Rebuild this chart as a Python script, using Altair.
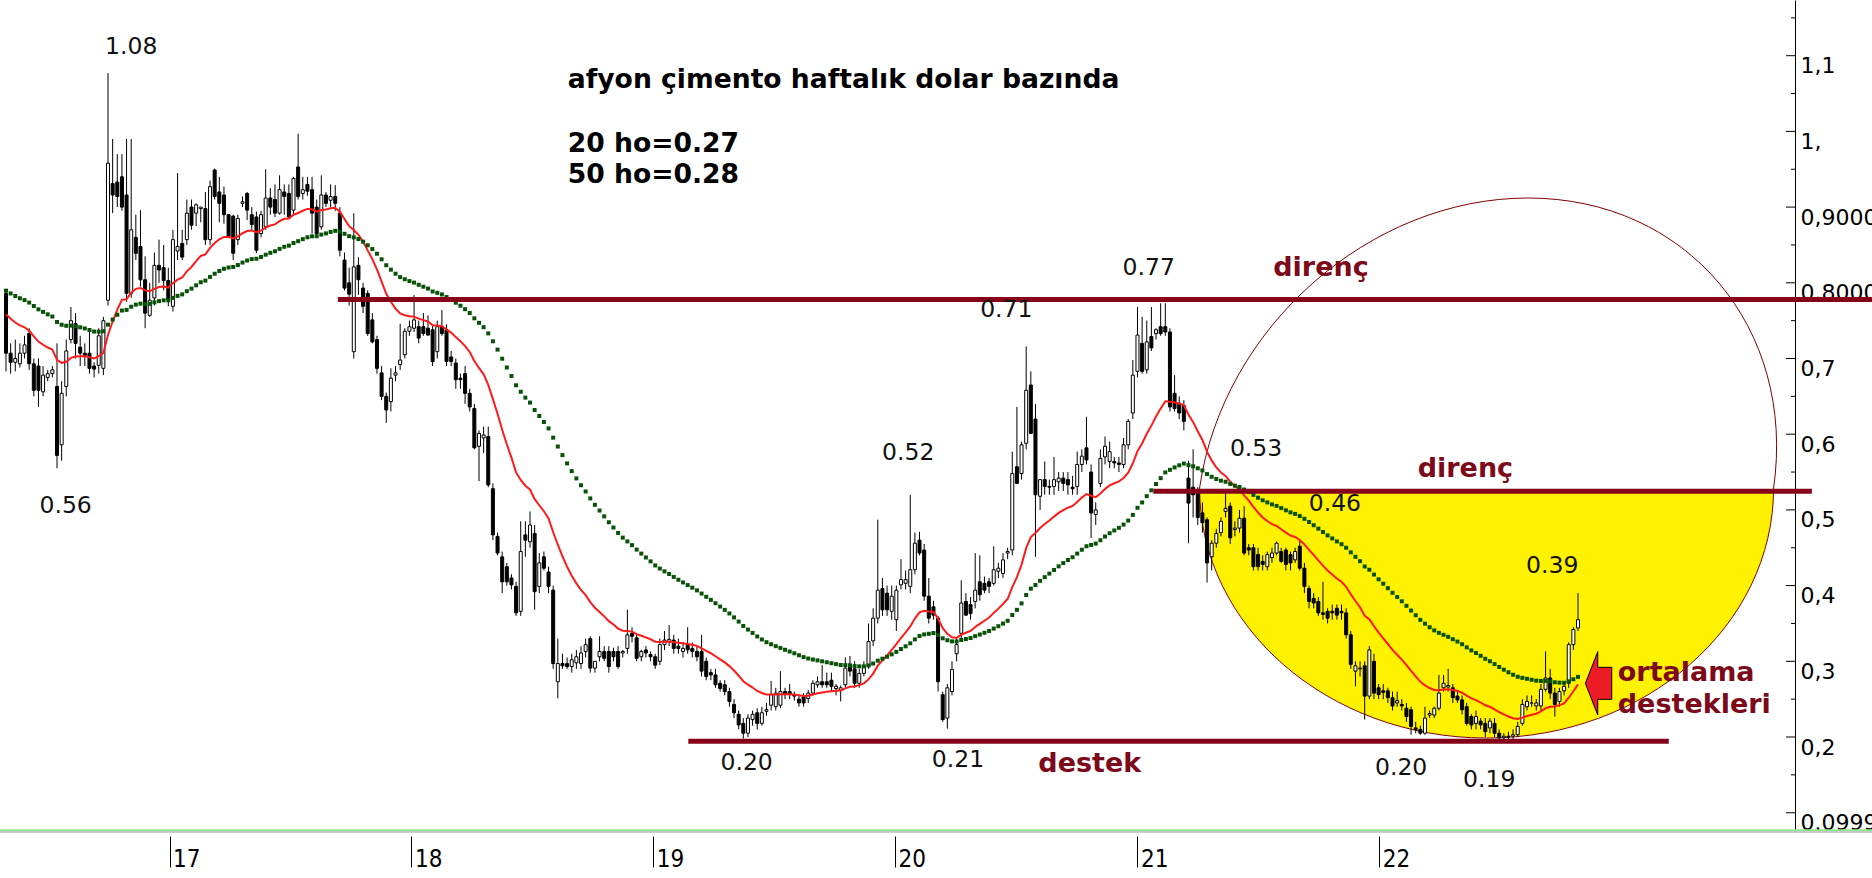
import altair as alt
import pandas as pd

# ---------------------------------------------------------------------------
# Weekly USD-based candles (first week ends 2016-04-29)
# ---------------------------------------------------------------------------
first_week = "2016-04-29"

opens = [
    .786, .707, .695, .693, .707, .733, .693, .69, .656, .675,
    .68, .663, .586, .663, .725, .746, .715, .707, .707, .69,
    .691, .687, .777, .931, .933, .94, .916, .786, .86, .848,
    .804, .757, .78, .823, .82, .803, .769, .842, .852, .857,
    .90, .892, .898, .898, .857, .949, .92, .916, .89, .888,
    .857, .905, .918, .89, .887, .865, .874, .912, .91, .892,
    .92, .918, .896, .953, .918, .93, .923, .90, .874, .916,
    .909, .914, .892, .83, .80, .709, .823, .793, .786, .751,
    .725, .681, .65, .643, .678, .692, .705, .736, .74, .742,
    .742, .74, .738, .709, .742, .738, .702, .694, .674, .68,
    .654, .634, .584, .595, .597, .528, .465, .438, .425, .41,
    .399, .366, .467, .458, .469, .399, .438, .418, .394, .273,
    .297, .297, .293, .298, .297, .313, .33, .291, .306, .313,
    .313, .313, .313, .311, .317, .337, .331, .306, .315, .309,
    .306, .30, .322, .326, .328, .32, .313, .322, .317, .313,
    .313, .30, .285, .282, .271, .269, .26, .243, .23, .218,
    .205, .223, .232, .218, .234, .242, .24, .242, .26, .26,
    .256, .25, .253, .251, .258, .269, .273, .273, .275, .264,
    .262, .269, .296, .29, .271, .284, .293, .327, .357, .396,
    .39, .366, .355, .401, .403, .399, .421, .46, .447, .386,
    .372, .357, .256, .225, .26, .31, .337, .379, .375, .379,
    .405, .403, .405, .403, .419, .416, .443, .447, .557, .548,
    .588, .665, .62, .518, .54, .531, .531, .537, .542, .54,
    .53, .531, .56, .582, .55, .494, .535, .57, .564, .564,
    .562, .56, .586, .628, .683, .72, .685, .729, .733, .742,
    .742, .735, .654, .641, .638, .542, .53, .522, .496, .487,
    .438, .456, .47, .498, .505, .474, .476, .489, .45, .45,
    .441, .432, .425, .437, .443, .445, .447, .441, .434, .452,
    .423, .396, .383, .379, .364, .366, .366, .37, .366, .364,
    .335, .287, .29, .294, .254, .30, .265, .261, .261, .252,
    .245, .243, .238, .236, .212, .21, .205, .229, .229, .238,
    .265, .266, .265, .254, .249, .24, .227, .218, .221, .218,
    .212, .218, .205, .199, .201, .201, .203, .218, .24, .245,
    .241, .241, .263, .278, .258, .247, .261, .271, .322, .344,
]

highs = [
    .79, .72, .725, .72, .73, .74, .70, .70, .69, .685,
    .69, .72, .67, .725, .768, .76, .73, .72, .735, .695,
    .74, .755, 1.077, .99, .97, .97, .99, .99, .89, .896,
    .835, .80, .84, .857, .85, .82, .87, .945, .87, .91,
    .91, .905, .90, .92, .935, .951, .94, .927, .89, .89,
    .89, .914, .92, .90, .894, .895, .95, .925, .93, .942,
    .93, .93, .94, .997, .94, .94, .94, .91, .942, .92,
    .93, .929, .90, .84, .82, .892, .834, .80, .79, .76,
    .73, .69, .655, .687, .69, .746, .74, .75, .784, .75,
    .76, .757, .745, .75, .764, .745, .71, .70, .68, .69,
    .66, .64, .605, .61, .61, .535, .47, .445, .43, .415,
    .405, .485, .485, .498, .48, .443, .445, .425, .40, .33,
    .31, .305, .31, .315, .32, .33, .333, .30, .333, .32,
    .32, .318, .32, .315, .368, .345, .335, .315, .32, .313,
    .31, .33, .34, .348, .335, .33, .325, .345, .325, .32,
    .335, .305, .29, .29, .275, .275, .265, .25, .235, .225,
    .23, .235, .238, .24, .245, .274, .265, .287, .265, .27,
    .26, .255, .258, .262, .275, .28, .295, .285, .285, .27,
    .268, .305, .307, .30, .29, .30, .35, .37, .487, .41,
    .40, .40, .40, .435, .42, .52, .47, .471, .455, .41,
    .38, .36, .26, .27, .30, .33, .407, .39, .385, .443,
    .44, .412, .41, .452, .43, .443, .45, .577, .636, .59,
    .716, .683, .64, .54, .564, .54, .57, .55, .55, .55,
    .545, .577, .58, .623, .56, .51, .58, .597, .59, .57,
    .57, .595, .62, .698, .768, .755, .75, .768, .74, .773,
    .773, .74, .678, .65, .645, .565, .58, .53, .51, .49,
    .46, .475, .49, .523, .51, .485, .50, .505, .455, .455,
    .45, .44, .445, .45, .458, .45, .45, .445, .45, .46,
    .43, .40, .39, .385, .405, .37, .375, .375, .375, .37,
    .34, .30, .30, .30, .32, .31, .27, .27, .265, .26,
    .26, .25, .245, .24, .22, .215, .24, .235, .24, .282,
    .282, .29, .27, .26, .255, .245, .23, .235, .225, .225,
    .225, .225, .21, .205, .207, .21, .22, .25, .255, .255,
    .25, .27, .313, .29, .265, .265, .27, .325, .345, .39,
]

lows = [
    .683, .68, .683, .688, .70, .685, .65, .636, .65, .67,
    .675, .555, .565, .65, .72, .70, .69, .69, .68, .675,
    .68, .678, .77, .892, .90, .895, .775, .78, .83, .795,
    .74, .755, .77, .80, .79, .769, .762, .83, .83, .85,
    .87, .875, .88, .85, .85, .91, .88, .878, .86, .83,
    .85, .90, .883, .87, .839, .86, .87, .89, .887, .89,
    .89, .885, .89, .91, .91, .915, .865, .861, .87, .90,
    .90, .895, .835, .79, .77, .70, .784, .76, .73, .72,
    .68, .645, .615, .63, .67, .685, .70, .73, .735, .72,
    .73, .73, .69, .70, .73, .69, .69, .66, .66, .64,
    .63, .58, .538, .575, .53, .46, .44, .39, .40, .395,
    .36, .36, .438, .45, .368, .39, .42, .39, .29, .251,
    .29, .29, .285, .29, .29, .305, .285, .285, .30, .30,
    .285, .30, .29, .305, .31, .325, .30, .30, .305, .30,
    .29, .295, .315, .32, .31, .31, .305, .31, .305, .30,
    .28, .275, .275, .265, .26, .255, .24, .225, .21, .198,
    .20, .215, .21, .215, .228, .235, .235, .238, .25, .25,
    .248, .24, .24, .245, .255, .265, .265, .265, .26, .255,
    .247, .265, .28, .265, .265, .28, .29, .32, .35, .36,
    .36, .355, .34, .395, .395, .39, .415, .44, .38, .35,
    .355, .26, .22, .211, .255, .30, .33, .36, .355, .37,
    .38, .39, .39, .40, .41, .41, .435, .44, .54, .54,
    .58, .60, .438, .50, .52, .52, .52, .525, .525, .52,
    .52, .52, .55, .56, .463, .48, .53, .56, .555, .555,
    .55, .555, .58, .62, .675, .68, .68, .71, .725, .73,
    .73, .63, .63, .62, .605, .456, .49, .48, .47, .404,
    .42, .45, .465, .49, .455, .465, .47, .44, .44, .42,
    .42, .42, .42, .43, .44, .43, .42, .42, .43, .42,
    .39, .37, .37, .36, .355, .35, .355, .355, .355, .33,
    .29, .267, .28, .223, .25, .25, .25, .25, .245, .235,
    .24, .235, .22, .203, .205, .203, .203, .225, .225, .235,
    .26, .26, .245, .245, .23, .215, .21, .21, .21, .20,
    .205, .20, .192, .195, .195, .196, .20, .215, .235, .24,
    .235, .235, .26, .25, .227, .24, .255, .265, .315, .34,
]

closes = [
    .707, .695, .70, .707, .718, .693, .658, .658, .678, .68,
    .685, .572, .654, .71, .75, .72, .707, .704, .687, .686,
    .73, .75, .958, .916, .914, .90, .786, .87, .839, .804,
    .76, .777, .823, .817, .803, .777, .857, .848, .834, .892,
    .876, .903, .90, .857, .927, .914, .905, .89, .861, .839,
    .885, .907, .896, .877, .843, .89, .912, .90, .892, .923,
    .914, .887, .938, .914, .923, .921, .892, .865, .916, .905,
    .914, .905, .843, .793, .785, .821, .804, .769, .733, .722,
    .687, .65, .632, .674, .681, .698, .736, .742, .751, .727,
    .733, .731, .696, .742, .733, .696, .696, .672, .672, .654,
    .636, .582, .601, .599, .533, .467, .443, .405, .405, .401,
    .364, .445, .46, .48, .392, .43, .423, .399, .297, .297,
    .294, .293, .302, .306, .311, .322, .291, .30, .313, .304,
    .293, .306, .293, .313, .335, .333, .304, .313, .311, .306,
    .295, .322, .328, .329, .317, .317, .317, .315, .313, .306,
    .287, .28, .282, .269, .264, .26, .247, .232, .216, .205,
    .225, .23, .218, .232, .236, .256, .258, .26, .256, .256,
    .254, .245, .245, .258, .271, .273, .269, .269, .267, .267,
    .265, .291, .287, .271, .284, .293, .326, .357, .394, .368,
    .368, .386, .394, .408, .408, .421, .456, .443, .386, .357,
    .361, .273, .223, .265, .289, .322, .377, .361, .363, .394,
    .388, .394, .399, .421, .423, .434, .445, .548, .535, .586,
    .658, .601, .52, .54, .531, .53, .54, .542, .535, .533,
    .528, .56, .571, .566, .496, .50, .568, .584, .577, .562,
    .56, .586, .617, .678, .731, .683, .722, .714, .738, .733,
    .735, .636, .634, .628, .617, .509, .52, .49, .483, .43,
    .456, .469, .485, .502, .463, .476, .489, .443, .447, .425,
    .425, .428, .441, .443, .456, .432, .428, .43, .445, .423,
    .399, .379, .377, .364, .362, .357, .364, .361, .364, .335,
    .296, .294, .291, .254, .315, .258, .256, .259, .252, .241,
    .248, .241, .227, .214, .21, .205, .225, .231, .238, .258,
    .271, .268, .252, .249, .236, .218, .216, .227, .216, .207,
    .221, .205, .199, .201, .20, .203, .214, .243, .247, .245,
    .245, .263, .278, .258, .243, .26, .267, .322, .342, .355,
]

# moving-average levels carried in from the week before the first candle
ema20_prev = 0.764
ema50_prev = 0.793

# axis ticks
year_ticks = [2017, 2018, 2019, 2020, 2021, 2022]
y_tick_values = [0.0999, 0.2, 0.3, 0.4, 0.5, 0.6, 0.7, 0.8, 0.9, 1.0, 1.1]
y_tick_labels = ["0.0999", "0,2", "0,3", "0,4", "0,5", "0,6", "0,7",
                 "0,8000", "0,9000", "1,", "1,1"]
y_minor_values = [0.15, 0.25, 0.35, 0.45, 0.55, 0.65, 0.75, 0.85, 0.95, 1.05, 1.15]

# horizontal support / resistance levels: (level, from, to)
levels = [
    (0.778, "2017-09-12", "2024-03-01"),
    (0.5246, "2021-01-25", "2023-10-16"),
    (0.1943, "2019-02-23", "2023-03-14"),
]

# price call-outs: (text, date, value at baseline)
price_notes = [
    ("1.08", "2016-11-04", 1.1016),
    ("0.56", "2016-07-28", 0.4959),
    ("0.52", "2020-01-21", 0.5659),
    ("0.71", "2020-06-17", 0.7552),
    ("0.77", "2021-01-18", 0.8108),
    ("0.53", "2021-06-29", 0.5716),
    ("0.46", "2021-10-26", 0.4990),
    ("0.39", "2022-09-19", 0.4162),
    ("0.20", "2019-05-22", 0.1564),
    ("0.21", "2020-04-05", 0.1608),
    ("0.20", "2022-02-03", 0.1498),
    ("0.19", "2022-06-16", 0.1339),
]

level_notes = [
    ("direnç", "2021-10-05", 0.809, "center"),
    ("direnç", "2022-05-11", 0.5439, "center"),
    ("destek", "2020-10-21", 0.1538, "center"),
    ("ortalama", "2022-12-27", 0.2744, "left"),
    ("destekleri", "2022-12-27", 0.2313, "left"),
]

title_lines = [
    ("afyon çimento haftalık dolar bazında", "2018-08-25", 1.0569),
    ("20 ho=0.27", "2018-08-25", 0.9732),
    ("50 ho=0.28", "2018-08-25", 0.9314),
]

# highlighted zone (centre of the oval) and the arrow pointing at the averages
zone_center = ("2022-06-12", 0.5289)
arrow_center = ("2022-11-28", 0.2709)

MAROON = "#850018"
LABEL_RED = "#7d0a1a"


def ema(values, span, prev):
    alpha = 2.0 / (span + 1)
    out, e = [], prev
    for v in values:
        e = e + alpha * (v - e)
        out.append(e)
    return out


dates = pd.date_range(first_week, periods=len(closes), freq="7D")
df = pd.DataFrame({
    "date": dates,
    "open": opens,
    "high": highs,
    "low": lows,
    "close": closes,
    "ema20": ema(closes, 20, ema20_prev),
    "ema50": ema(closes, 50, ema50_prev),
})

# ---------------------------------------------------------------------------
# Scales and axes
# ---------------------------------------------------------------------------
x_scale = alt.Scale(domain=[alt.DateTime(year=2016, month=4, date=27, hours=12),
                            alt.DateTime(year=2023, month=9, date=13)])
y_scale = alt.Scale(domain=[0.07583, 1.17358], nice=False, zero=False)

x_axis = alt.Axis(
    values=[alt.DateTime(year=y, month=1, date=1) for y in year_ticks],
    format="%y", title=None, domain=False, grid=False,
    ticks=True, tickSize=31, tickColor="black", tickWidth=1, offset=5,
    labelAlign="left", labelBaseline="alphabetic", labelPadding=-1, labelOffset=3,
    labelFont="DejaVu Sans Condensed, DejaVu Sans", labelFontSize=24,
    labelColor="black", labelOverlap=False, labelFlush=False,
)

label_expr = ""
for v, lab in zip(y_tick_values, y_tick_labels):
    label_expr += f"abs(datum.value - {v}) < 0.001 ? '{lab}' : "
label_expr += "''"

y_axis = alt.Axis(
    orient="right", values=y_tick_values, labelExpr=label_expr, title=None,
    grid=False, ticks=False, domain=True, domainColor="black", domainWidth=1,
    labelAlign="left", labelBaseline="top", labelPadding=5,
    labelFont="DejaVu Sans", labelFontSize=22, labelColor="black",
    labelOverlap=False, labelFlush=False,
)


def X(field):
    return alt.X(field, type="temporal", scale=x_scale, axis=x_axis)


def Y(field):
    return alt.Y(field, type="quantitative", scale=y_scale, axis=y_axis)


# ---------------------------------------------------------------------------
# Layers
# ---------------------------------------------------------------------------
zone_df = pd.DataFrame({"date": [zone_center[0]], "v": [zone_center[1]]})
arrow_df = pd.DataFrame({"date": [arrow_center[0]], "v": [arrow_center[1]]})

# Oval outline in a unit box (1 unit = 300 px): the upper half leans to the
# right, the lower half is a plain half-ellipse.
oval_path = ("M -0.9567 0 "
             "C -0.8803 -0.534 -0.39 -0.9667 0.1383 -0.9667 "
             "C 0.6667 -0.9667 1.033 -0.534 0.9567 0 "
             "A 0.9567 0.8333 0 0 1 -0.9567 0 Z")
lower_part_path = "M -0.9566 0.011 A 0.9567 0.8333 0 0 0 0.9566 0.011 Z"
oval_size = 600 ** 2

zone_fill = alt.Chart(zone_df).mark_point(
    shape=lower_part_path, size=oval_size, filled=True,
    fill="#fff200", stroke=None, opacity=1,
).encode(x=X("date"), y=Y("v"))

zone_outline = alt.Chart(zone_df).mark_point(
    shape=oval_path, size=oval_size, filled=False,
    stroke="#800000", strokeWidth=1, opacity=1,
).encode(x=X("date"), y=Y("v"))

wicks = alt.Chart(df).mark_rule(color="black", strokeWidth=1).encode(
    x=X("date"), y=Y("low"), y2="high",
)

bodies = alt.Chart(df).mark_bar(width=3, stroke="black", strokeWidth=1).encode(
    x=X("date"), y=Y("open"), y2="close",
    fill=alt.when(alt.datum.close < alt.datum.open)
    .then(alt.value("black")).otherwise(alt.value("white")),
)

ema20_line = alt.Chart(df).mark_line(color="#ff1a1a", strokeWidth=2).encode(
    x=X("date"), y=Y("ema20"),
)

ema50_dots = alt.Chart(df).mark_square(size=16, color="#075207", opacity=1).encode(
    x=X("date"), y=Y("ema50"),
)

levels_df = pd.DataFrame(levels, columns=["v", "start", "end"])
level_rules = alt.Chart(levels_df).mark_rule(color=MAROON, strokeWidth=5).encode(
    x=X("start"), x2="end", y=Y("v"),
)

price_df = pd.DataFrame(price_notes, columns=["text", "date", "v"])
price_text = alt.Chart(price_df).mark_text(
    font="DejaVu Sans", fontSize=23.5, color="#111111",
    align="center", baseline="alphabetic",
).encode(x=X("date"), y=Y("v"), text="text")

level_df = pd.DataFrame(level_notes, columns=["text", "date", "v", "align"])
level_text_layers = []
for align in ["center", "left"]:
    level_text_layers.append(
        alt.Chart(level_df[level_df["align"] == align]).mark_text(
            font="DejaVu Sans", fontSize=27, fontWeight="bold", color=LABEL_RED,
            align=align, baseline="alphabetic",
        ).encode(x=X("date"), y=Y("v"), text="text")
    )

title_df = pd.DataFrame(title_lines, columns=["text", "date", "v"])
title_text = alt.Chart(title_df).mark_text(
    font="DejaVu Sans", fontSize=26.6, fontWeight="bold", color="black",
    align="left", baseline="alphabetic",
).encode(x=X("date"), y=Y("v"), text="text")

arrow_path = ("M -0.416 0 L -0.025 -1 L -0.025 -0.505 L 0.416 -0.505 "
              "L 0.416 0.505 L -0.025 0.505 L -0.025 1 Z")
arrow = alt.Chart(arrow_df).mark_point(
    shape=arrow_path, size=4020, filled=True, fill="#ed1c24",
    stroke="black", strokeWidth=1, opacity=1,
).encode(x=X("date"), y=Y("v"))

major_df = pd.DataFrame({"v": y_tick_values})
minor_df = pd.DataFrame({"v": y_minor_values})
major_ticks = alt.Chart(major_df).mark_rule(color="black", strokeWidth=1).encode(
    x=alt.value(1786), x2=alt.value(1795), y=Y("v"),
)
minor_ticks = alt.Chart(minor_df).mark_rule(color="black", strokeWidth=1).encode(
    x=alt.value(1791), x2=alt.value(1795), y=Y("v"),
)

base_df = pd.DataFrame({"k": [0]})
green_base = alt.Chart(base_df).mark_rule(color="#8fe88f", strokeWidth=2).encode(
    x=alt.value(0), x2=alt.value(1872), y=alt.value(830.2),
)
grey_base = alt.Chart(base_df).mark_rule(color="#b8b8b8", strokeWidth=1.5).encode(
    x=alt.value(0), x2=alt.value(1872), y=alt.value(832.0),
)

chart = alt.layer(
    zone_fill, zone_outline, wicks, bodies, ema20_line, ema50_dots,
    level_rules, price_text, *level_text_layers, title_text, arrow,
    major_ticks, minor_ticks, green_base, grey_base,
).properties(
    width=1795, height=831,
    padding={"left": 0, "top": 0, "right": 77, "bottom": 47},
    autosize=alt.AutoSizeParams(type="none"),
    background="white",
).configure_view(stroke=None)

chart.save("out.html", embed_options={"renderer": "svg", "actions": False})
